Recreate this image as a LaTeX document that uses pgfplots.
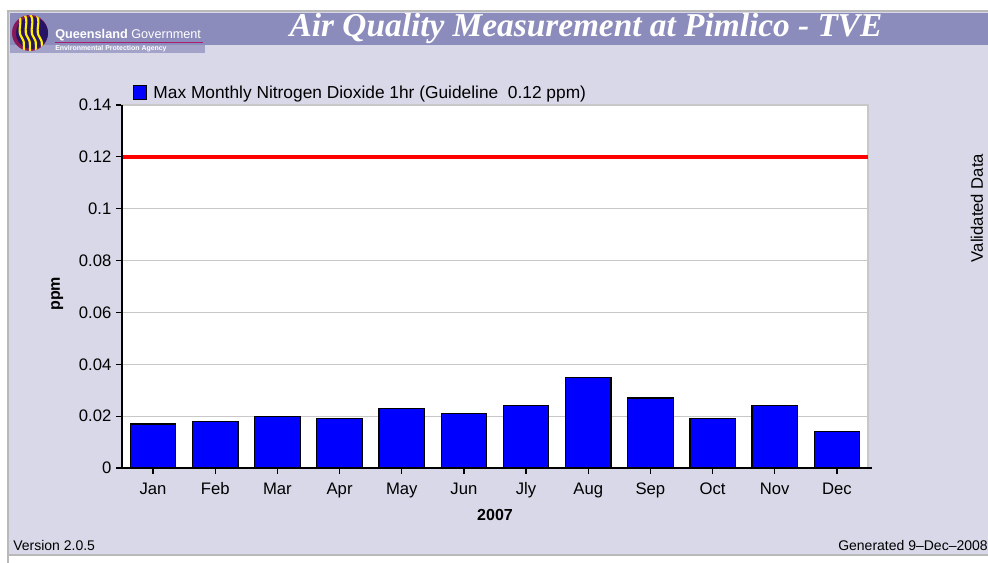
\documentclass[border=0pt]{standalone}
\usepackage{fontspec}
\setmainfont{Liberation Sans}
\newfontfamily\titlefont{Liberation Serif}
\usepackage{pgfplots}
\pgfplotsset{compat=1.18}
\definecolor{bgl}{RGB}{216,216,232}
\definecolor{band}{RGB}{140,140,188}
\definecolor{gridc}{RGB}{200,200,200}
\definecolor{navy}{RGB}{40,20,100}
\definecolor{qmag}{RGB}{170,30,110}

\begin{document}
\begin{tikzpicture}
% page furniture, in pixels of the original (y downwards)
\begin{scope}[x=0.75pt,y=-0.75pt]
\fill[white] (0,0) rectangle (988,563);
\fill[bgl] (8,11) rectangle (988,555);
\draw[gray!55, line width=1pt] (8,563) -- (8,11) -- (988,11);
\draw[gray!55, line width=1pt] (8,555) -- (988,555);
\fill[band] (10,13) rectangle (988,45);
\fill[band!80!white] (10,45) rectangle (205,53);
% logo
\fill[qmag!80!black] (30,33) circle (18);
\fill[navy] (32,33) circle (16);
\begin{scope}
\clip (30,33) circle (18);
\foreach \d in {0,6,12,18}{
  \draw[yellow, line width=1.6pt] (18+\d,14) .. controls (24+\d,22) and (16+\d,30) .. (22+\d,38) .. controls (26+\d,44) and (22+\d,48) .. (25+\d,54);
}
\end{scope}
\node[anchor=west, text=white, inner sep=0pt, font=\fontsize{9.5}{10}\selectfont] at (55,35) {\textbf{Queensland} Government};
\draw[qmag, line width=1.2pt] (55,42.5) -- (203,42.5);
\node[anchor=west, text=white, inner sep=0pt, font=\fontsize{5.2}{6}\selectfont\bfseries] at (55,48.5) {Environmental Protection Agency};
\node[text=white, inner sep=0pt, font=\titlefont\bfseries\itshape\fontsize{25}{27}\selectfont] at (586,29) {Air Quality Measurement at Pimlico - TVE};
\node[rotate=90, inner sep=0pt, font=\fontsize{12.5}{14}\selectfont] at (977,208) {Validated Data};
\node[anchor=west, inner sep=0pt, font=\fontsize{10.5}{12}\selectfont] at (13,545) {Version 2.0.5};
\node[anchor=west, inner sep=0pt, font=\fontsize{10.5}{12}\selectfont] at (838,545) {Generated 9--Dec--2008};
\end{scope}

\begin{axis}[
  at={(91.5pt,-351pt)}, anchor=south west,
  scale only axis, width=559.5pt, height=272.25pt,
  clip=false,
  xmin=-0.5, xmax=11.5, ymin=0, ymax=0.14,
  xtick={0,...,11},
  xticklabels={Jan,Feb,Mar,Apr,May,Jun,Jly,Aug,Sep,Oct,Nov,Dec},
  ytick={0,0.02,0.04,0.06,0.08,0.1,0.12,0.14},
  scaled y ticks=false,
  yticklabel style={/pgf/number format/.cd, fixed, precision=2, assume math mode=true},
  ymajorgrids, grid style={gridc, line width=0.8pt},
  axis background/.style={fill=white},
  axis line style={gridc, line width=0.8pt},
  tick pos=left, tick align=outside, major tick length=4.5pt,
  tick style={black, line width=0.9pt},
  ticklabel style={font=\fontsize{12.5}{14}\selectfont},
  xticklabel style={yshift=-3pt},
  ylabel={\textbf{ppm}},
  ylabel style={at={(axis description cs:-0.087,0.48)}, anchor=center, rotate=0, font=\fontsize{12}{14}\selectfont},
  xlabel={\textbf{2007}},
  xlabel style={at={(axis description cs:0.5,-0.129)}, anchor=center, font=\fontsize{12}{14}\selectfont},
  legend style={at={(0.012,1.002)}, anchor=south west, draw=none, fill=none,
    font=\fontsize{13}{15}\selectfont, inner sep=1pt},
  legend cell align=left,
  legend image code/.code={\draw[fill=blue, draw=black, line width=0.7pt] (0pt,-5pt) rectangle (10pt,5.5pt);},
]
\addplot[ybar, bar width=0.73, fill=blue, draw=black, line width=0.9pt]
  coordinates {(0,0.017) (1,0.018) (2,0.020) (3,0.019) (4,0.023) (5,0.021)
               (6,0.024) (7,0.035) (8,0.027) (9,0.019) (10,0.024) (11,0.014)};
\addlegendentry{\hspace{3pt}Max Monthly Nitrogen Dioxide 1hr (Guideline\ \ 0.12 ppm)}
\addplot[red, line width=3pt, forget plot] coordinates {(-0.5,0.12) (11.5,0.12)};
\draw[black, line width=2.2pt] (rel axis cs:0,1) -- (rel axis cs:0,0) -- (rel axis cs:1.006,0);
\end{axis}
\pgfresetboundingbox
\path[use as bounding box] (0,0) rectangle (741pt,-422.25pt);
\end{tikzpicture}
\end{document}
